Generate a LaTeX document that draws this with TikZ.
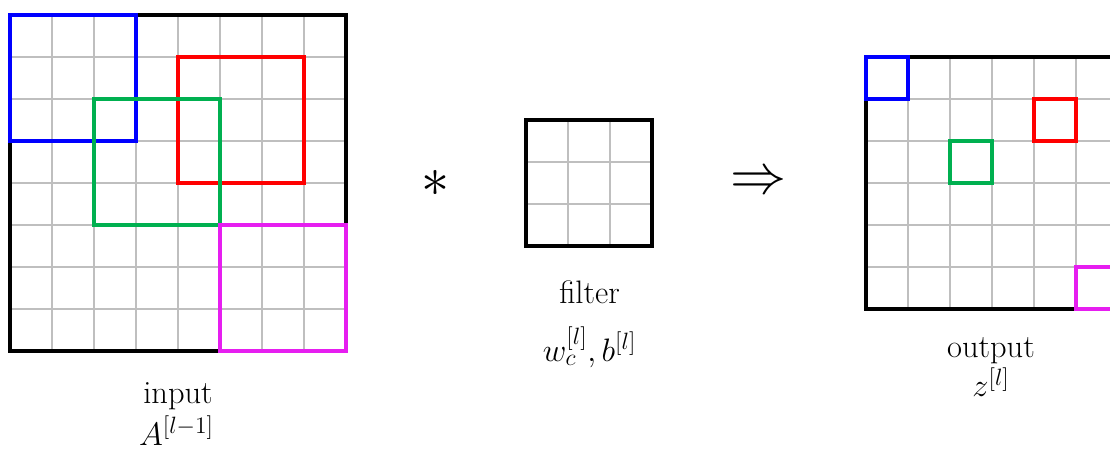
\documentclass[tikz,border=0pt]{standalone}
\usepackage{fix-cm}
\usepackage{amsmath}
\usepackage{tikz}
\usetikzlibrary{positioning}
\DeclareMathSizes{22}{22}{16}{12}
\definecolor{gridgray}{HTML}{BFBFBF}
\definecolor{winblue}{HTML}{0000FF}
\definecolor{winred}{HTML}{FF0000}
\definecolor{wingreen}{HTML}{00B050}
\definecolor{winpink}{HTML}{E61EF0}

\begin{document}
\begin{tikzpicture}[
    cellgrid/.style={gridgray,line width=1.1pt},
    frame/.style={black,line width=2.6pt},
    window/.style={line width=2.6pt},
    lbl/.style={anchor=base,inner sep=0pt,font=\fontsize{22}{26}\selectfont}]
  \useasboundingbox (0,0) rectangle (26.4286,10.7619);
  \clip (0,0) rectangle (26.4286,10.7619);

  % input A^[l-1], 8x8
  \begin{scope}[shift={(0.238,2.405)}]
    \draw[cellgrid] (0,0) grid (8,8);
    \draw[frame] (0,0) rectangle (8,8);
    \draw[window,winblue] (0,5) rectangle (3,8);
    \draw[window,winred] (4,4) rectangle (7,7);
    \draw[window,wingreen] (2,3) rectangle (5,6);
    \draw[window,winpink] (5,0) rectangle (8,3);
  \end{scope}
  \node[lbl] (inname) at (4.238,1.16) {input};
  \node[lbl] (inmath) at (4.2,0.16) {$A^{[l-1]}$};

  % convolution sign
  \node[font=\fontsize{38}{38}\selectfont] (conv) at (10.38,6.40) {$*$};

  % filter, 3x3
  \begin{scope}[shift={(12.524,4.905)}]
    \draw[cellgrid] (0,0) grid (3,3);
    \draw[frame] (0,0) rectangle (3,3);
  \end{scope}
  \node[lbl] (fname) at (14.036,3.53) {filter};
  \node[lbl] (fmath) at (14.036,2.15) {$w_c^{[l]},b^{[l]}$};

  % result sign
  \node[font=\fontsize{38}{38}\selectfont] (gives) at (18.07,6.40) {$\Rightarrow$};

  % output z^[l], 6x6 (cut at the right edge)
  \begin{scope}[shift={(20.619,3.405)}]
    \draw[cellgrid] (0,0) grid (6,6);
    \draw[frame] (0,0) rectangle (6,6);
    \draw[window,winblue] (0,5) rectangle (1,6);
    \draw[window,winred] (4,4) rectangle (5,5);
    \draw[window,wingreen] (2,3) rectangle (3,4);
    \draw[window,winpink] (5,0) rectangle (6,1);
  \end{scope}
  \node[lbl] (outname) at (23.595,2.238) {output};
  \node[lbl] (outmath) at (23.595,1.31) {$z^{[l]}$};
\end{tikzpicture}
\end{document}
